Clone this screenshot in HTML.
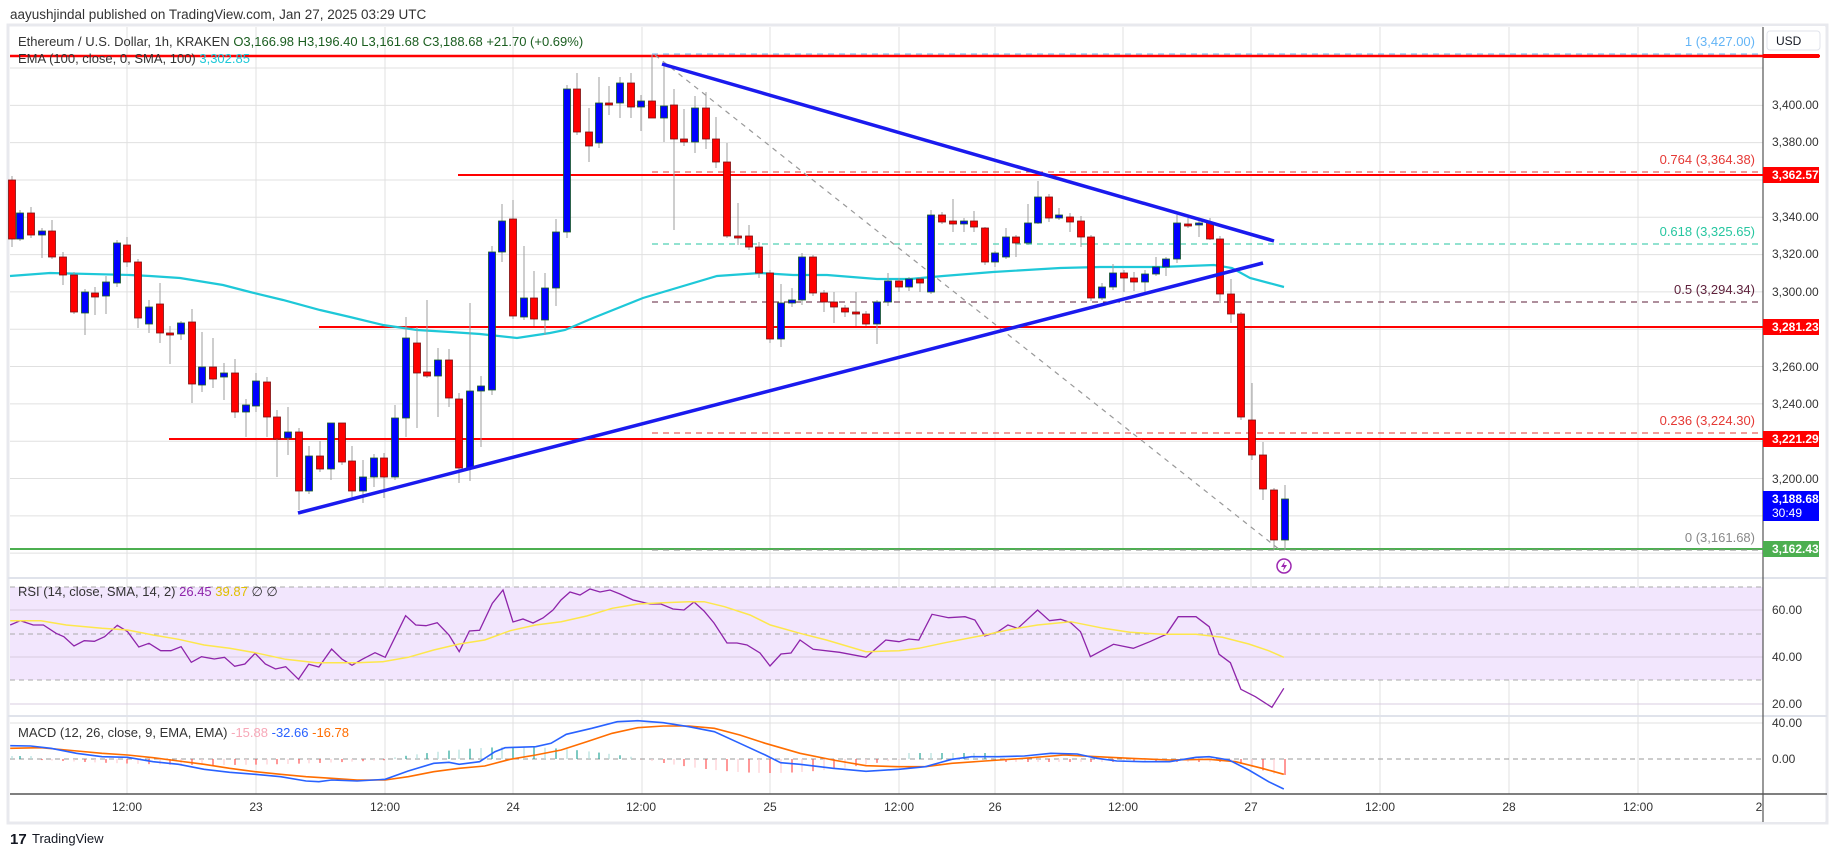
<!DOCTYPE html>
<html><head><meta charset="utf-8">
<style>
html,body{margin:0;padding:0;background:#fff;}
svg{display:block;font-family:"Liberation Sans",sans-serif;}
</style></head>
<body>
<svg id="s" width="1835" height="857" viewBox="0 0 1835 857" xmlns="http://www.w3.org/2000/svg">
<rect x="0" y="0" width="1835" height="857" fill="#fff"/>
<text x="10" y="19" font-size="13.5" fill="#333">aayushjindal published on TradingView.com, Jan 27, 2025 03:29 UTC</text>
<rect x="8" y="25" width="1819" height="798" fill="none" stroke="#e8e9ee" stroke-width="3"/>
<rect x="1763" y="26" width="62" height="796" fill="#fff"/>
<g id="grid"></g>
<rect x="10" y="587" width="1753" height="93" fill="#f2e6fd"/>
<g id="dyn"></g>
</svg>
<script>
let h='';
const g=[127,256,385,513,642,770,899,995,1123,1251,1380,1509,1638];
g.forEach(x=>{h+=`<line x1="${x}" y1="27" x2="${x}" y2="794" stroke="#e0e0e0" stroke-width="1"/>`;});
for(let y=68;y<=560;y+=37.32){h+=`<line x1="10" y1="${y}" x2="1763" y2="${y}" stroke="#e0e0e0"/>`;}
document.getElementById('grid').innerHTML=h;
h='';
[610,657,704].forEach(y=>h+=`<line x1="10" y1="${y}" x2="1763" y2="${y}" stroke="#d8cce0"/>`);
[587,634,680].forEach(y=>h+=`<line x1="10" y1="${y}" x2="1763" y2="${y}" stroke="#aaa" stroke-dasharray="5,4"/>`);
h+=`<line x1="10" y1="723" x2="1763" y2="723" stroke="#e0e0e0"/>`;
h+=`<line x1="10" y1="759" x2="1763" y2="759" stroke="#999" stroke-dasharray="5,4"/>`;
h+=`<line x1="8" y1="578" x2="1827" y2="578" stroke="#e0e3eb" stroke-width="2"/>`;
h+=`<line x1="8" y1="716" x2="1827" y2="716" stroke="#e0e3eb" stroke-width="2"/>`;
h+=`<line x1="10" y1="794" x2="1827" y2="794" stroke="#555" stroke-width="1.5"/>`;
h+=`<line x1="1763" y1="27" x2="1763" y2="822" stroke="#555" stroke-width="1.2"/>`;
h+=`<line x1="10" y1="56" x2="1820" y2="56" stroke="#ff0000" stroke-width="2.5"/>`;
h+=`<line x1="458" y1="175" x2="1763" y2="175" stroke="#ff0000" stroke-width="2"/>`;
h+=`<line x1="319" y1="327" x2="1763" y2="327" stroke="#ff0000" stroke-width="2"/>`;
h+=`<line x1="169" y1="439" x2="1763" y2="439" stroke="#ff0000" stroke-width="2"/>`;
h+=`<line x1="10" y1="549" x2="1763" y2="549" stroke="#4caf50" stroke-width="2"/>`;
[[54,'#64b5f6'],[172,'#e53935'],[244,'#26c6a0'],[302,'#5d1f3a'],[433,'#e53935'],[550,'#888']].forEach(a=>{
h+=`<line x1="652" y1="${a[0]}" x2="1758" y2="${a[0]}" stroke="${a[1]}" stroke-width="1" stroke-dasharray="6,5"/>`;});
h+=`<line x1="655" y1="55" x2="1280" y2="550" stroke="#999" stroke-width="1.2" stroke-dasharray="5,5"/>`;
const ema=[[10,276],[50,273],[130,275],[150,276],[180,278],[223,285],[250,292],[283,300],[320,310],[350,317],[383,325],[417,330],[450,332],[480,334],[517,338],[550,333],[565,330],[593,318],[643,298],[717,276],[760,273],[793,275],[827,275],[877,279],[910,279],[943,276],[993,272],[1060,268],[1100,267],[1161,267],[1214,265],[1232,268],[1250,278],[1284,287]];
h+=`<polyline points="${ema.map(p=>p.join(',')).join(' ')}" fill="none" stroke="#1ec8d8" stroke-width="2.2"/>`;
const C=[[12,180,239,176,247],[20,239,213,210,241],[31,213,235,207,238],[42,235,231,228,258],[52,231,257,220,259],[63,257,275,252,285],[74,275,312,272,314],[85,313,292,289,335],[95,293,297,287,315],[106,296,282,276,314],[117,283,243,240,287],[127,245,262,237,267],[138,262,318,259,328],[149,324,307,300,333],[160,304,333,283,343],[170,333,334,326,364],[181,334,323,321,340],[192,322,384,309,403],[202,385,367,332,392],[213,367,379,338,388],[224,377,373,363,400],[235,373,412,359,418],[246,412,405,399,437],[256,406,381,373,412],[267,382,417,377,437],[277,417,439,410,477],[288,438,432,407,455],[299,432,491,428,510],[309,491,456,446,494],[320,456,469,441,472],[331,469,423,423,480],[342,423,462,423,465],[352,461,491,446,497],[363,491,477,460,503],[374,477,458,454,487],[384,458,477,453,498],[395,477,418,405,480],[406,418,338,317,437],[417,343,373,327,428],[427,372,376,300,378],[438,376,360,348,417],[449,360,398,349,407],[459,399,468,393,483],[470,468,391,303,481],[481,391,386,376,447],[492,390,252,246,395],[502,252,221,204,262],[513,219,316,200,319],[524,317,298,246,320],[534,298,319,271,326],[545,320,288,273,335],[556,288,232,219,306],[567,232,89,85,238],[577,89,132,73,135],[589,132,146,108,162],[599,143,103,77,148],[609,103,104,86,115],[620,103,83,77,118],[631,83,107,73,118],[641,107,101,95,131],[652,101,118,55,118],[664,118,106,65,142],[674,105,139,89,230],[684,139,142,109,146],[695,142,108,96,153],[706,108,139,92,149],[716,139,162,117,168],[727,162,236,143,238],[738,236,237,203,245],[749,236,247,225,250],[759,247,273,242,278],[770,273,339,270,343],[781,339,303,284,347],[792,303,300,288,307],[802,300,257,253,305],[813,257,293,255,296],[824,293,302,290,312],[834,302,307,292,323],[845,308,312,305,317],[856,312,314,292,326],[866,314,324,311,326],[877,324,302,300,344],[888,302,281,273,306],[899,281,287,278,292],[909,287,279,277,291],[920,279,283,277,292],[931,292,215,210,294],[942,215,222,212,224],[953,221,224,199,232],[964,224,221,218,232],[974,221,227,211,232],[985,228,262,227,265],[995,262,253,251,267],[1006,257,237,228,259],[1016,237,243,235,257],[1028,243,223,204,245],[1038,223,197,181,224],[1049,197,218,194,222],[1059,218,215,208,220],[1070,217,222,213,232],[1081,221,237,216,247],[1091,237,298,235,301],[1102,298,287,283,300],[1113,287,273,264,290],[1124,273,278,270,292],[1134,278,282,272,291],[1145,282,274,270,292],[1156,274,267,257,276],[1166,267,259,257,276],[1177,259,223,215,263],[1188,224,225,218,228],[1199,224,223,220,237],[1210,223,239,218,240],[1220,239,294,236,303],[1231,294,314,279,323],[1241,314,417,312,420],[1252,420,455,383,460],[1263,455,489,442,500],[1274,490,540,488,550],[1285,540,499,485,550]];
C.forEach(c=>{const [x,o,cl,hi,lo]=c;const up=cl<o;
h+=`<line x1="${x}" y1="${hi}" x2="${x}" y2="${lo}" stroke="#9e9e9e" stroke-width="1"/>`;
const t=Math.min(o,cl),b=Math.max(Math.abs(o-cl),2);
h+=`<rect x="${x-3.5}" y="${t}" width="7" height="${b}" fill="${up?'#0000ff':'#ff0000'}" stroke="${up?'#1b5e20':'#7a1010'}" stroke-width="0.8"/>`;});
h+=`<line x1="662" y1="64" x2="1274" y2="241" stroke="#1a1aee" stroke-width="3.5"/>`;
h+=`<line x1="298" y1="513" x2="1263" y2="263" stroke="#1a1aee" stroke-width="3.5"/>`;
const tf=(a)=>a.map(p=>[(p[0]/1.96).toFixed(1),(600+p[1]/3).toFixed(1)]);
const tf5=(a)=>a.map(p=>[(800+p[0]/1.515).toFixed(1),(600+p[1]/3).toFixed(1)]);
const rsiA=tf([[20,75],[40,62],[65,75],[85,75],[110,100],[125,110],[145,138],[165,122],[185,124],[205,110],[230,76],[250,95],[272,141],[292,130],[315,152],[335,152],[355,140],[375,187],[395,170],[420,177],[440,172],[460,199],[480,192],[500,160],[520,192],[540,207],[560,200],[585,238],[605,193],[625,201],[650,147],[670,177],[690,196],[710,178],[735,158],[755,172],[795,47],[815,75],[835,77],[857,68],[880,105],[900,155],[920,93],[940,91],[965,10]]);
const rsiB=[[503,590],[513,622],[523,619],[533,623],[543,618],[553,610],[561,600],[570,592],[580,595],[590,589],[600,592],[610,590],[620,594],[633,600],[650,604],[661,604],[673,609],[684,610],[694,602],[704,611],[714,623],[727,643],[737,643],[747,645],[760,653],[770,666],[781,654],[791,653],[800,640]];
const rsiC=tf5([[20,148],[60,157],[100,172],[130,120],[150,125],[165,117],[180,120],[200,43],[225,53],[250,50],[265,60],[280,108],[300,95],[315,75],[330,85],[360,30],[378,62],[395,58],[410,68],[425,95],[440,170],[475,133],[505,145],[530,125],[555,103],[573,50],[600,50],[620,80],[635,163],[652,188],[668,268],[690,290],[715,322],[733,265]]);
const rsi=[...rsiA,...rsiB,...rsiC];
h+=`<polyline points="${rsi.map(p=>p.join(',')).join(' ')}" fill="none" stroke="#8e24aa" stroke-width="1.3"/>`;
const ys=[...tf([[20,62],[80,62],[130,75],[200,85],[250,90],[300,105],[350,118],[400,135],[450,145],[500,158],[560,178],[620,188],[700,188],[750,185],[800,172],[850,150],[900,132],[950,120],[1000,92],[1050,75],[1100,65],[1150,48],[1200,25],[1250,12],[1300,8],[1350,5],[1380,5],[1420,20],[1470,45],[1510,75],[1568,100]]),...tf5([[40,120],[100,155],[150,152],[180,145],[220,128],[280,105],[320,88],[360,75],[410,65],[460,85],[500,97],[550,103],[600,103],[640,112],[680,132],[710,152],[733,172]])];
h+=`<polyline points="${ys.map(p=>p.join(',')).join(' ')}" fill="none" stroke="#fde74c" stroke-width="1.5"/>`;
for(let i=0;i<120;i++){const x=C[i][0];let v;
 if(x<40)v=3; else if(x<390)v=-5*Math.sin((x-40)/350*Math.PI)-1; else if(x<640)v=11*Math.sin((x-390)/250*Math.PI)+1; else if(x<900)v=-14*Math.sin((x-640)/260*Math.PI); else if(x<1000)v=6; else if(x<1230)v=-3; else v=-Math.min((x-1225)*0.3,16);
 const col=v>0?(i%2?'#26a69a':'#b2dfdb'):(i%2?'#ff5252':'#ffcdd2');
 h+=`<line x1="${x}" y1="759" x2="${x}" y2="${759-v}" stroke="${col}" stroke-width="1.2"/>`;}
const mb=[...tf([[20,437],[60,438],[100,445],[150,460],[200,470],[250,472],[300,485],[350,493],[400,508],[450,517],[500,523],[550,530],[600,543],[625,545],[650,540],[700,543],[755,538],[800,513],[850,490],[880,487],[900,493],[940,485],[970,455],[990,443],[1050,440],[1080,430],[1110,403],[1160,385],[1210,365],[1250,362],[1300,368],[1350,380],[1400,395],[1450,430],[1500,465],[1530,488],[1568,493]]),...tf5([[50,505],[100,514],[150,508],[190,500],[230,478],[260,470],[300,470],[340,468],[380,460],[420,462],[450,475],[480,483],[520,485],[560,485],[600,472],[620,470],[650,480],[680,510],[710,545],[733,567]])];
const mo=[...tf([[20,445],[80,443],[130,450],[200,460],[250,465],[300,473],[350,483],[400,493],[450,505],[500,515],[550,523],[600,530],[650,535],[700,540],[755,540],[800,530],[850,515],[900,505],[950,498],[1000,478],[1050,465],[1100,450],[1150,425],[1200,400],[1250,383],[1300,378],[1350,378],[1400,385],[1450,405],[1500,430],[1568,460]]),...tf5([[50,480],[100,497],[150,500],[190,500],[230,490],[280,483],[340,475],[400,465],[450,470],[500,475],[560,480],[620,478],[660,485],[700,505],[733,523]])];
h+=`<polyline points="${mo.map(p=>p.join(',')).join(' ')}" fill="none" stroke="#ff6d00" stroke-width="1.6"/>`;
h+=`<polyline points="${mb.map(p=>p.join(',')).join(' ')}" fill="none" stroke="#2962ff" stroke-width="1.6"/>`;
h+=`<text x="18" y="46" font-size="13" fill="#333">Ethereum / U.S. Dollar, 1h, KRAKEN <tspan fill="#1b5e20"> O3,166.98 </tspan><tspan fill="#1b5e20"> H3,196.40 </tspan><tspan fill="#1b5e20"> L3,161.68 </tspan><tspan fill="#1b5e20"> C3,188.68 </tspan><tspan fill="#1b5e20"> +21.70 (+0.69%)</tspan></text>`;
h+=`<text x="18" y="63" font-size="13" fill="#333">EMA (100, close, 0, SMA, 100) <tspan fill="#1ec8d8">3,302.85</tspan></text>`;
h+=`<text x="18" y="596" font-size="13" fill="#333">RSI (14, close, SMA, 14, 2) <tspan fill="#8e24aa">26.45</tspan> <tspan fill="#e0c000">39.87</tspan> ∅ ∅</text>`;
h+=`<text x="18" y="737" font-size="13" fill="#333">MACD (12, 26, close, 9, EMA, EMA) <tspan fill="#f7a8b8">-15.88</tspan> <tspan fill="#2962ff">-32.66</tspan> <tspan fill="#ff6d00">-16.78</tspan></text>`;
[[46,'#64b5f6','1 (3,427.00)'],[164,'#e53935','0.764 (3,364.38)'],[236,'#26c6a0','0.618 (3,325.65)'],[294,'#5d1f3a','0.5 (3,294.34)'],[425,'#e53935','0.236 (3,224.30)'],[542,'#888','0 (3,161.68)']].forEach(a=>{
h+=`<text x="1755" y="${a[0]}" font-size="13" fill="${a[1]}" text-anchor="end">${a[2]}</text>`;});
[['3,400.00',105],['3,380.00',142],['3,340.00',217],['3,320.00',254],['3,300.00',292],['3,260.00',367],['3,240.00',404],['3,200.00',479]].forEach(a=>{
h+=`<text x="1772" y="${a[1]+4}" font-size="12" fill="#333">${a[0]}</text>`;});
h+=`<rect x="1767" y="31" width="53" height="19" rx="3" fill="#fff" stroke="#e0e3eb"/><text x="1776" y="45" font-size="12" fill="#131722">USD</text>`;
h+=`<rect x="1763" y="54" width="56" height="4" fill="#ff0000"/>`;
[[175,'3,362.57','#ff0000'],[327,'3,281.23','#ff0000'],[439,'3,221.29','#ff0000'],[549,'3,162.43','#4caf50']].forEach(a=>{
h+=`<rect x="1763" y="${a[0]-8}" width="56" height="16" fill="${a[2]}"/><text x="1772" y="${a[0]+4}" font-size="12" font-weight="bold" fill="#fff">${a[1]}</text>`;});
h+=`<rect x="1763" y="491" width="56" height="30" fill="#0000ff"/><text x="1772" y="503" font-size="12" font-weight="bold" fill="#fff">3,188.68</text><text x="1772" y="517" font-size="12" fill="#fff">30:49</text>`;
[['60.00',610],['40.00',657],['20.00',704],['40.00',723],['0.00',759]].forEach(a=>{
h+=`<text x="1772" y="${a[1]+4}" font-size="12" fill="#333">${a[0]}</text>`;});
[[127,'12:00'],[256,'23'],[385,'12:00'],[513,'24'],[641,'12:00'],[770,'25'],[899,'12:00'],[995,'26'],[1123,'12:00'],[1251,'27'],[1380,'12:00'],[1509,'28'],[1638,'12:00'],[1759,'2']].forEach(a=>{
h+=`<text x="${a[0]}" y="811" font-size="12" fill="#333" text-anchor="middle">${a[1]}</text>`;});
h+=`<circle cx="1284" cy="566" r="7" fill="#fff" stroke="#9c27b0" stroke-width="1.5"/><path d="M1285 561 L1281 567 L1284 567 L1283 571 L1287 565 L1284 565 Z" fill="#9c27b0"/>`;
h+=`<text x="10" y="844" font-size="15" font-weight="bold" fill="#131722">17</text><text x="32" y="843" font-size="13" fill="#131722">TradingView</text>`;
document.getElementById('dyn').innerHTML=h;
</script>
</body></html>
